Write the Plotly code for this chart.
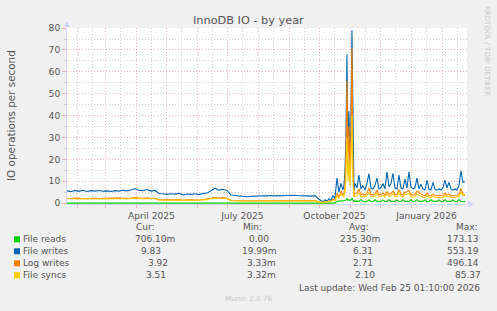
import pandas as pd
import plotly.graph_objects as go

# ---------------- data ----------------
dates = (list(pd.date_range("2025-01-21", "2025-09-30", freq="4D")) +
         list(pd.date_range("2025-10-02", "2025-10-24", freq="2D")) +
         list(pd.date_range("2025-10-25", "2025-11-05", freq="D")) +
         list(pd.date_range("2025-11-07", "2026-02-23", freq="2D")))

file_reads = [
    0.0, 0.0, 0.0, 0.0, 0.0, 0.0, 0.0, 0.0,
    0.0, 0.0, 0.0, 0.0, 0.0, 0.0, 0.0, 0.0,
    0.0, 0.0, 0.0, 0.0, 0.0, 0.0, 0.0, 0.0,
    0.0, 0.0, 0.0, 0.0, 0.0, 0.0, 0.0, 0.0,
    0.0, 0.0, 0.0, 0.0, 0.0, 0.0, 0.0, 0.0,
    0.0, 0.0, 0.0, 0.0, 0.0, 0.0, 0.0, 0.0,
    0.0, 0.0, 0.0, 0.0, 0.0, 0.0, 0.0, 0.0,
    0.0, 0.0, 0.0, 0.0, 0.0, 0.0, 0.0, 0.0,
    0.0, 0.0, 0.0, 0.0, 0.0, 0.0, 0.0, 0.0, 0.8, 0.9, 0.8, 1.0,
    1.0, 1.2, 1.5, 2.0, 1.3, 1.6, 1.2, 1.4, 2.2, 1.1, 0.8, 0.9,
    0.9, 0.8, 1.6, 0.8, 0.7, 0.8, 1.5, 0.8, 0.7, 1.6, 0.8,
    0.7, 0.8, 1.5, 0.7, 0.8, 1.6, 0.8, 0.7, 0.8, 1.5, 0.7,
    0.8, 1.6, 0.8, 0.7, 0.8, 1.5, 0.7, 0.8, 1.6, 0.8, 0.7,
    0.8, 1.5, 0.7, 0.8, 1.6, 0.8, 0.7, 0.8, 1.5, 0.7, 0.8,
    1.6, 0.8, 0.7, 0.8, 1.5, 0.7, 0.8, 1.6, 0.8, 0.7, 0.7,
]

file_writes = [
    5.6, 5.2, 5.8, 5.4, 5.9, 5.3, 5.7, 5.5,
    5.8, 5.4, 5.6, 5.3, 5.7, 5.5, 5.9, 5.6,
    6.0, 6.7, 5.9, 5.7, 6.2, 5.5, 5.8, 4.4,
    4.3, 4.0, 4.3, 4.1, 4.5, 3.8, 4.2, 4.0,
    4.3, 3.9, 4.4, 4.6, 5.6, 6.8, 5.9, 6.3,
    5.8, 3.7, 3.5, 3.3, 3.2, 2.9, 3.1, 3.3,
    3.2, 3.4, 3.3, 3.5, 3.3, 3.4, 3.6, 3.5,
    3.7, 3.6, 3.4, 3.5, 3.3, 3.2, 3.4, 1.8,
    1.0, 0.6, 1.5, 0.8, 2.0, 1.2, 3.5, 2.0, 11.5, 5.0, 9.0, 6.0,
    8.0, 14.0, 30.0, 68.0, 25.0, 42.0, 20.0, 38.0, 79.0, 22.0, 6.0, 9.0,
    7.0, 12.8, 6.5, 8.0, 6.0, 9.0, 13.5, 7.0, 6.5, 8.0, 11.4,
    6.5, 7.0, 9.0, 6.5, 14.3, 7.5, 9.0, 13.6, 7.0, 6.5, 12.8,
    7.0, 6.5, 11.0, 7.0, 14.3, 7.5, 6.5, 7.0, 11.4, 6.5, 8.7,
    6.5, 6.0, 10.5, 6.5, 6.0, 9.5, 6.3, 5.9, 6.5, 6.0, 7.0,
    10.5, 7.0, 9.5, 6.5, 6.0, 6.5, 6.0, 8.0, 14.8, 9.5, 9.8,
]

log_writes = [
    2.2, 2.0, 2.3, 2.1, 2.2, 2.0, 2.1, 2.3,
    2.1, 2.2, 2.0, 2.1, 2.2, 2.4, 2.2, 2.1,
    2.3, 2.6, 2.3, 2.2, 2.4, 2.1, 2.2, 1.6,
    1.5, 1.4, 1.6, 1.5, 1.6, 1.3, 1.5, 1.4,
    1.5, 1.4, 1.6, 1.8, 2.2, 2.6, 2.3, 2.5,
    2.2, 1.2, 1.1, 1.0, 1.1, 0.9, 1.0, 1.1,
    1.1, 1.2, 1.1, 1.2, 1.1, 1.2, 1.3, 1.2,
    1.3, 1.3, 1.2, 1.3, 1.2, 1.1, 1.2, 0.6,
    0.6, 0.4, 0.8, 0.5, 1.0, 0.8, 1.8, 1.2, 4.5, 2.8, 5.5, 3.8,
    4.0, 8.0, 22.0, 56.0, 18.0, 35.0, 15.0, 30.0, 71.0, 16.0, 3.5, 4.5,
    4.5, 6.5, 3.8, 4.2, 3.6, 4.5, 6.8, 4.0, 3.7, 4.2, 6.0,
    3.8, 4.0, 4.6, 3.7, 5.2, 4.0, 4.5, 5.5, 3.8, 4.0, 6.3,
    4.0, 3.7, 5.0, 5.2, 5.8, 4.0, 3.6, 3.8, 5.5, 4.8, 4.2,
    3.6, 3.4, 4.6, 3.5, 3.3, 4.2, 3.4, 3.3, 3.5, 3.4, 3.6,
    4.5, 3.7, 4.2, 3.5, 3.3, 3.4, 3.5, 4.0, 6.7, 4.2, 3.9,
]

file_syncs = [
    2.0, 1.9, 2.0, 1.9, 2.0, 1.8, 1.9, 2.0,
    1.9, 2.0, 1.8, 1.9, 2.0, 2.1, 2.0, 1.9,
    2.0, 2.3, 2.0, 2.0, 2.1, 1.9, 2.0, 1.4,
    1.3, 1.2, 1.4, 1.3, 1.4, 1.2, 1.3, 1.2,
    1.3, 1.2, 1.4, 1.6, 2.0, 2.3, 2.1, 2.2,
    2.0, 1.1, 1.0, 0.9, 1.0, 0.8, 0.9, 1.0,
    1.0, 1.0, 1.0, 1.1, 1.0, 1.1, 1.1, 1.1,
    1.1, 1.2, 1.1, 1.1, 1.1, 1.0, 1.0, 0.5,
    0.5, 0.3, 0.7, 0.4, 0.9, 0.7, 1.5, 1.0, 3.5, 2.2, 4.2, 3.0,
    3.0, 5.0, 12.0, 30.0, 10.0, 20.0, 8.0, 18.0, 40.0, 10.0, 2.8, 3.3,
    3.4, 4.8, 2.9, 3.2, 2.8, 3.4, 5.0, 3.0, 2.8, 3.1, 4.5,
    2.9, 3.0, 3.5, 2.8, 4.2, 3.0, 3.4, 4.3, 2.9, 3.0, 4.8,
    3.0, 2.8, 3.9, 4.0, 4.5, 3.0, 2.7, 2.9, 4.2, 3.6, 3.2,
    2.7, 2.6, 3.5, 2.6, 2.5, 3.2, 2.6, 2.5, 2.6, 2.6, 2.7,
    3.4, 2.8, 3.2, 2.7, 2.5, 2.6, 2.7, 3.1, 5.0, 3.6, 3.5,
]

series_names = ["File reads", "File writes", "Log writes", "File syncs"]
series_colors = ["#00CC00", "#0066B3", "#FF8000", "#FFCC00"]
cur_vals = ["706.10m", "9.83", "3.92", "3.51"]
min_vals = ["0.00", "19.99m", "3.33m", "3.32m"]
avg_vals = ["235.30m", "6.31", "2.71", "2.10"]
max_vals = ["173.13", "553.19", "496.14", "85.37"]

month_starts = list(pd.date_range("2025-02-01", "2026-02-01", freq="MS"))
mid_months = [d + pd.Timedelta(days=14, hours=12) for d in month_starts]
label_months = {"2025-04": "April 2025", "2025-07": "July 2025",
                "2025-10": "October 2025", "2026-01": "January 2026"}
mid_text = [label_months.get(d.strftime("%Y-%m"), "") for d in mid_months]

# ---------------- layout helpers ----------------
W, H = 497, 311
L, R, T, B = 67, 30, 28, 107
PW, PH = W - L - R, H - T - B
FONT = "DejaVu Sans"
TXT = "#555555"


def px(x):
    return (x - L) / PW


def py(y):
    return (T + PH - y) / PH


fig = go.Figure()
for name, vals, col in zip(series_names, [file_reads, file_writes, log_writes, file_syncs], series_colors):
    fig.add_trace(go.Scatter(x=dates, y=vals, mode="lines", name=name,
                             line=dict(color=col, width=1.1), showlegend=False,
                             hoverinfo="skip"))

MGRID = "rgba(230,120,120,0.5)"
GRID = "rgba(150,150,150,0.4)"
AXIS = "#CFD6F8"
DASH = "1px,2px"

fig.update_layout(
    width=W, height=H,
    margin=dict(l=L, r=R, t=T, b=B, pad=0),
    paper_bgcolor="#F0F0F0", plot_bgcolor="#FFFFFF",
    font=dict(family=FONT, color=TXT, size=9),
    xaxis=dict(
        type="date",
        range=["2025-01-21 01:10", "2026-02-25 01:10"],
        tickmode="array", tickvals=mid_months, ticktext=mid_text,
        ticks="", showgrid=True, gridcolor=GRID, griddash=DASH, gridwidth=1,
        tickfont=dict(size=9.1, color=TXT, family=FONT),
        showline=True, linecolor=AXIS, linewidth=1, zeroline=False,
        ticklabelstandoff=3,
        minor=dict(tickmode="array", tickvals=month_starts, showgrid=True,
                   gridcolor=MGRID, griddash=DASH, gridwidth=1,
                   ticks="outside", ticklen=3, tickcolor=MGRID, tickwidth=1),
    ),
    yaxis=dict(
        range=[-0.4, 80.05],
        tickmode="array", tickvals=[0, 10, 20, 30, 40, 50, 60, 70, 80],
        ticks="outside", ticklen=4, tickcolor=MGRID, tickwidth=1,
        showgrid=True, gridcolor=MGRID, griddash=DASH, gridwidth=1,
        tickfont=dict(size=9.1, color=TXT, family=FONT),
        showline=True, linecolor=AXIS, linewidth=1, zeroline=False,
        minor=dict(tickmode="array", tickvals=[5, 15, 25, 35, 45, 55, 65, 75],
                   showgrid=True, gridcolor=GRID, griddash=DASH, gridwidth=1,
                   ticks="outside", ticklen=2, tickcolor=GRID),
    ),
)

ann = []


def text(x, y, s, size=9, color=TXT, xanchor="center", angle=0):
    ann.append(dict(x=px(x), y=py(y), xref="paper", yref="paper", text=s,
                    showarrow=False, xanchor=xanchor, yanchor="middle",
                    textangle=angle, font=dict(family=FONT, size=size, color=color)))


text(248, 21, "InnoDB IO - by year", size=11.3)
text(11, 115, "IO operations per second", size=10.4, angle=-90)
text(487, 51, "RRDTOOL / TOBI OETIKER", size=7, color="#C8C8C8", angle=90)

# legend table
text(145.7, 227, "Cur:")
text(252.5, 227, "Min:")
text(359, 227, "Avg:")
text(466.7, 227, "Max:")
row_y = [239.3, 251.3, 263.3, 275.2]
cur_x = [155.2, 150.8, 157.5, 156.3]
min_x = [258.8, 259.5, 261.7, 261.7]
avg_x = [359.8, 362.5, 362.5, 365.0]
max_x = [463.3, 463.3, 463.3, 468.0]
shapes = []
for i, name in enumerate(series_names):
    y = row_y[i]
    text(20.5, y, name, xanchor="left")
    text(cur_x[i], y, cur_vals[i])
    text(min_x[i], y, min_vals[i])
    text(avg_x[i], y, avg_vals[i])
    text(max_x[i], y, max_vals[i])
    shapes.append(dict(type="rect", xref="paper", yref="paper",
                       x0=px(14), x1=px(20), y0=py(y + 3), y1=py(y - 3),
                       fillcolor=series_colors[i], line=dict(width=0)))

text(482, 287.5, "Last update: Wed Feb 25 01:10:00 2026", xanchor="right")
text(248.5, 298, "Munin 2.0.76", size=7.2, color="#C8C8C8")

# axis arrows
shapes.append(dict(type="path", xref="paper", yref="paper",
                   path=f"M {px(64)} {py(27)} L {px(67)} {py(21)} L {px(70)} {py(27)} Z",
                   fillcolor=AXIS, line=dict(width=0)))
shapes.append(dict(type="path", xref="paper", yref="paper",
                   path=f"M {px(468)} {py(200.5)} L {px(474)} {py(204)} L {px(468)} {py(207.5)} Z",
                   fillcolor=AXIS, line=dict(width=0)))

fig.update_layout(annotations=ann, shapes=shapes)
fig.write_html("out.html")
